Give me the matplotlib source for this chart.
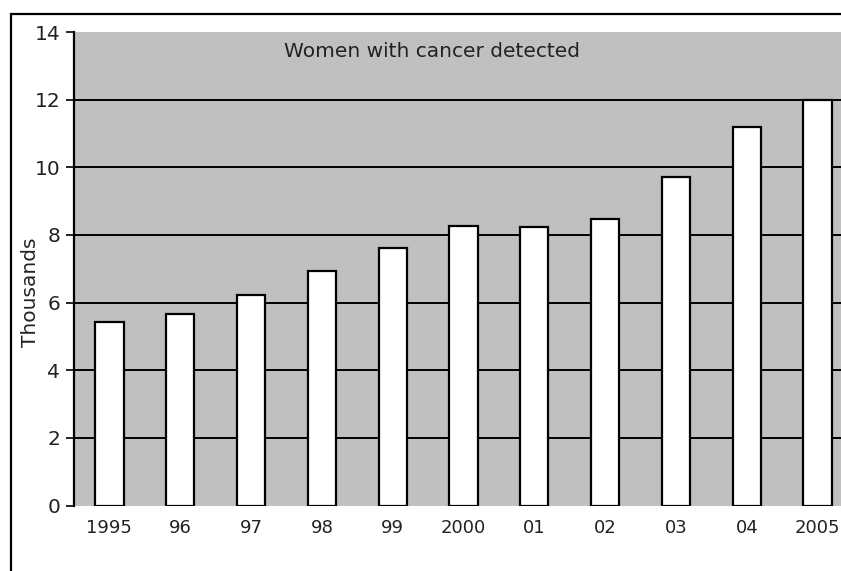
import matplotlib.pyplot as plt
from matplotlib.patches import Rectangle

years = ['1995', '96', '97', '98', '99', '2000', '01', '02', '03', '04', '2005']
women_detected = [5.42, 5.65, 6.21, 6.93, 7.61, 8.26, 8.24, 8.48, 9.72, 11.18, 11.98]
y_ticks = [0, 2, 4, 6, 8, 10, 12, 14]

plt.rcParams['font.family'] = ['DejaVu Sans']
FS = 14.5

fig = plt.figure(figsize=(8.41, 5.71), dpi=100)

# outer chart border (runs off the right and bottom edges)
fig.patches.append(Rectangle((10.5 / 841, -0.2), 1.5, (571 - 14) / 571 + 0.2,
                             transform=fig.transFigure, fill=False,
                             edgecolor='black', linewidth=1.6, zorder=0))

# plot area is wider than the canvas, so the right side gets clipped
ax = fig.add_axes([74 / 841, 65.5 / 571, (853 - 74) / 841, (539 - 65.5) / 571])
ax.set_facecolor('#c0c0c0')

x = range(len(years))
ax.bar(x, women_detected, width=0.4, color='white', edgecolor='black',
       linewidth=1.6, zorder=3)

ax.set_xlim(-0.5, len(years) - 0.5)
ax.set_ylim(0, 14)
ax.set_yticks(y_ticks)
ax.set_xticks(list(x))
ax.set_xticklabels(years)
for v in y_ticks[1:-1]:
    ax.axhline(v, color='black', linewidth=1.4, zorder=1)

ax.tick_params(axis='x', length=0, pad=9.5, labelsize=13, labelcolor='#222222')
ax.tick_params(axis='y', length=6, width=1.2, direction='out', pad=4,
               labelsize=FS, labelcolor='#222222')

for side in ['top', 'right', 'bottom']:
    ax.spines[side].set_visible(False)
ax.spines['left'].set_linewidth(1.6)

ax.set_ylabel('Thousands', fontsize=FS, color='#222222')
ax.yaxis.set_label_coords(-0.044, 0.451)
ax.text(0.459, 0.958, 'Women with cancer detected', transform=ax.transAxes,
        ha='center', va='center', fontsize=FS, color='#222222')

fig.savefig('out.png', dpi=100)
